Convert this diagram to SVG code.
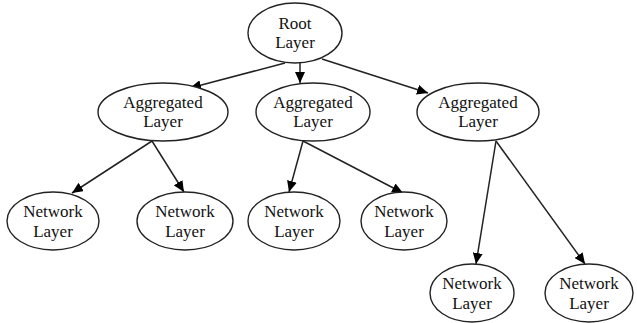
<svg xmlns="http://www.w3.org/2000/svg" width="637" height="323" viewBox="0 0 637 323">
<style>
.n ellipse{fill:#fff;stroke:#222;stroke-width:1.4}
.n text{font-family:"Liberation Serif","Times New Roman",serif;font-size:17px;fill:#111;text-anchor:middle}
.e line{stroke:#222;stroke-width:1.5;marker-end:url(#ah)}
</style>
<defs>
<marker id="ah" markerUnits="userSpaceOnUse" markerWidth="12" markerHeight="10" refX="11" refY="5" orient="auto">
<path d="M0,0 L11,5 L0,10 z" fill="#000"/>
</marker>
</defs>
<rect width="637" height="323" fill="#fff"/>
<g id="edges" class="e">
<line x1="285" y1="63" x2="190" y2="88"/>
<line x1="300" y1="63" x2="300" y2="83"/>
<line x1="322" y1="59" x2="428" y2="93"/>
<line x1="152" y1="141" x2="72" y2="193"/>
<line x1="152" y1="141" x2="184" y2="192"/>
<line x1="303" y1="141" x2="289" y2="192"/>
<line x1="303" y1="141" x2="403" y2="193"/>
<line x1="496" y1="141" x2="476" y2="264"/>
<line x1="496" y1="141" x2="585" y2="264"/>
</g>
<g id="root" class="n"><ellipse cx="295" cy="33" rx="47" ry="30"/><text x="295" y="29">Root</text><text x="295" y="48">Layer</text></g>
<g id="agg1" class="n"><ellipse cx="163" cy="112" rx="65" ry="29"/><text x="163" y="108">Aggregated</text><text x="163" y="127">Layer</text></g>
<g id="agg2" class="n"><ellipse cx="313" cy="112" rx="57" ry="29"/><text x="313" y="108">Aggregated</text><text x="313" y="127">Layer</text></g>
<g id="agg3" class="n"><ellipse cx="478" cy="112" rx="61" ry="29"/><text x="478" y="108">Aggregated</text><text x="478" y="127">Layer</text></g>
<g id="net1" class="n"><ellipse cx="53" cy="221" rx="46" ry="29"/><text x="53" y="217">Network</text><text x="53" y="237">Layer</text></g>
<g id="net2" class="n"><ellipse cx="185" cy="221" rx="48" ry="29"/><text x="185" y="217">Network</text><text x="185" y="237">Layer</text></g>
<g id="net3" class="n"><ellipse cx="294" cy="221" rx="46" ry="29"/><text x="294" y="217">Network</text><text x="294" y="237">Layer</text></g>
<g id="net4" class="n"><ellipse cx="404" cy="221" rx="43" ry="29"/><text x="404" y="217">Network</text><text x="404" y="237">Layer</text></g>
<g id="net5" class="n"><ellipse cx="472" cy="293" rx="42" ry="29"/><text x="472" y="289">Network</text><text x="472" y="309">Layer</text></g>
<g id="net6" class="n"><ellipse cx="589" cy="293" rx="44" ry="29"/><text x="589" y="289">Network</text><text x="589" y="309">Layer</text></g>
</svg>
